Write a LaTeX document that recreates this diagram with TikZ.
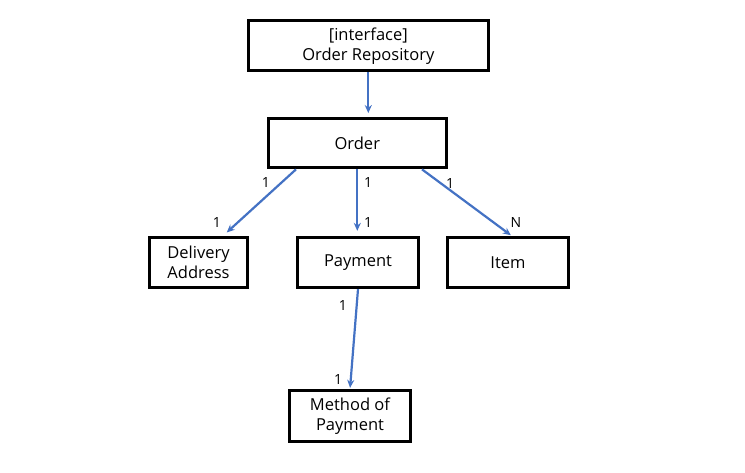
\documentclass[tikz,border=0pt]{standalone}
\usepackage{fontspec}
\setmainfont{Open Sans}
\usetikzlibrary{arrows.meta}
\definecolor{arrowblue}{HTML}{4472C4}
\begin{document}
\begin{tikzpicture}[x=1pt,y=-1pt,
  box/.style={draw=black,line width=3.3pt,fill=white,rectangle,align=center,inner sep=0pt,font=\fontsize{16.5}{20}\selectfont},
  conn/.style={draw=arrowblue,line width=2.2pt,-{Stealth[length=8pt,width=7pt]}},
  mult/.style={inner sep=0pt,font=\fontsize{14}{16}\selectfont}]
\useasboundingbox[fill=white] (0,0) rectangle (745,472);
\node[box,minimum width=240pt,minimum height=50pt] (repo) at (368.3,45.8) {[interface]\\Order Repository};
\node[box,minimum width=178pt,minimum height=49pt] (order) at (357.3,143.2) {Order};
\node[box,minimum width=98pt,minimum height=50pt] (delivery) at (198.5,262.5) {Delivery\\Address};
\node[box,minimum width=121pt,minimum height=50pt] (payment) at (358,262.5) {Payment};
\node[box,minimum width=121pt,minimum height=50pt] (item) at (508,262.5) {Item};
\node[box,minimum width=121pt,minimum height=51pt] (method) at (350,416) {Method of\\Payment};

\draw[conn,shorten >=4pt] (repo.south) -- (order.north -| repo.south);
\draw[conn,shorten >=5pt] ([xshift=-61.3pt]order.south) -- ([xshift=24.5pt]delivery.north);
\draw[conn,shorten >=5pt] (order.south) -- (order.south |- payment.north);
\draw[conn,shorten >=1pt] ([xshift=64.7pt]order.south) -- ([xshift=3.7pt]item.north);
\draw[conn,shorten >=1pt] (payment.south) -- (method.north);

\node[mult] (l1) at (266,182) {1};
\node[mult] (l2) at (217,222) {1};
\node[mult] (l3) at (368,182) {1};
\node[mult] (l4) at (368,222) {1};
\node[mult] (l5) at (450,183) {1};
\node[mult] (l6) at (516,222) {N};
\node[mult] (l7) at (343,305) {1};
\node[mult] (l8) at (338,379) {1};
\end{tikzpicture}
\end{document}
